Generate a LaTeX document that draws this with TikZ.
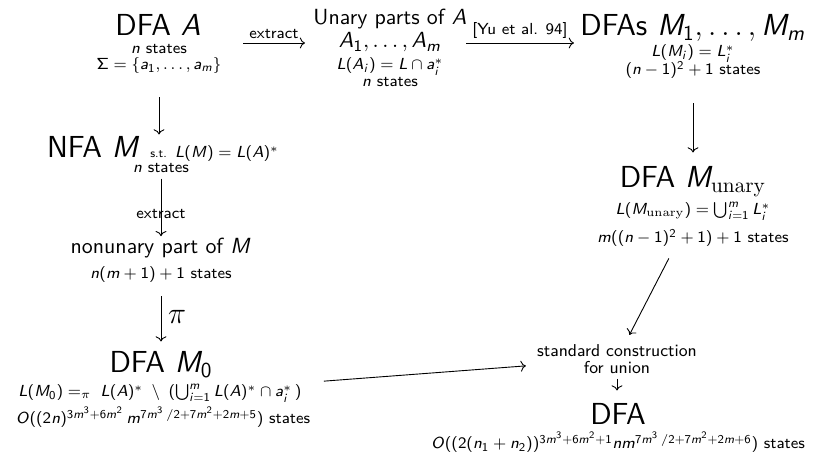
\documentclass[tikz,border=0pt]{standalone}
\usepackage{fix-cm}
\usepackage{amsmath}
\usepackage{tikz}
\usetikzlibrary{arrows.meta, positioning, calc}
\renewcommand{\familydefault}{\sfdefault}
% sans serif math letters, as on a slide
\makeatletter
\DeclareSymbolFont{sfletters}{OT1}{cmss}{m}{sl}
\SetSymbolFont{operators}{normal}{OT1}{cmss}{m}{n}
\@tfor\sf@letter:=abcdefghijklmnopqrstuvwxyzABCDEFGHIJKLMNOPQRSTUVWXYZ\do{%
  \edef\sf@tmp{\noexpand\DeclareMathSymbol{\sf@letter}{\noexpand\mathalpha}{sfletters}{`\sf@letter}}\sf@tmp}
\makeatother
\DeclareMathAlphabet{\mathserif}{OT1}{cmr}{m}{n}
\newcommand{\titlefont}{\fontsize{15.2}{17}\selectfont}
\newcommand{\partfont}{\fontsize{10.95}{12.5}\selectfont}
\newcommand{\methodfont}{\fontsize{8.6}{8.5}\selectfont}
\newcommand{\notefont}{\fontsize{8}{9}\selectfont}
\newcommand{\tinyfont}{\fontsize{6}{7}\selectfont}

\begin{document}
\begin{tikzpicture}[
    x=0.5pt, y=-0.5pt,
    title/.style={font=\titlefont, anchor=base, inner sep=1pt},
    part/.style={font=\partfont, anchor=base, inner sep=1pt},
    note/.style={font=\notefont, anchor=base, inner sep=1pt},
    method/.style={font=\methodfont, align=center, inner sep=1pt},
    arrowlabel/.style={font=\notefont, anchor=south, inner xsep=3pt, inner ysep=2pt},
    arrow/.style={->, line width=0.45pt}
]
\useasboundingbox (0,0) rectangle (821,458);

% top row
\node (dfaA) [title] at (158,36) {DFA $A$};
\node (dfaAstates) [note] at (159,54) {$n$ states};
\node (dfaAsigma) [note] at (159,70) {$\Sigma=\{a_1,\ldots,a_m\}$};
\node (extract) [arrowlabel] at (274,43) {extract};
\draw [arrow] (extract.south west) -- (extract.south east);
\node (unaryhead) [part] at (390,25) {Unary parts of $A$};
\node (unaryparts) [part] at (390,48) {$A_1,\ldots,A_m$};
\node (unarylang) [note] at (390,70) {$L(A_i)=L\cap a_i^*$};
\node (unarystates) [note] at (390,87) {$n$ states};
\node (yu) [arrowlabel] at (520,43) {[Yu et al. 94]};
\draw [arrow] (yu.south west) -- (yu.south east);
\node (dfaM) [title] at (693,36) {DFAs $M_1,\ldots,M_m$};
\node (dfaMlang) [note] at (693,57) {$L(M_i)=L_i^*$};
\node (dfaMstates) [note] at (693,75) {$(n-1)^2+1$ states};

% left column
\node (nfa) [note] at (163,158) {{\titlefont NFA $M$ }{\tinyfont s.t.}\ \,$L(M)=L(A)^*$};
\node (nfastates) [note] at (161,173) {$n$ states};
\node (nonunary) [part] at (161,254) {nonunary part of $M$};
\node (nonunarystates) [note] at (161,279) {$n(m+1)+1$ states};
\node (dfaMzero) [title] at (161,373) {DFA $M_0$};
\node (mzerolang) [note] at (160,397) {$L(M_0)\mathrel{=_\pi}\;L(A)^*\;\setminus\;(\bigcup_{i=1}^m L(A)^*\cap a_i^*\,)$};
\node (mzerostates) [note] at (163,424) {$O((2n)^{3m^3+6m^2}\,m^{7m^3\,/2+7m^2+2m+5})$ states};

% right column
\node (munary) [title] at (693,188) {DFA $M_{\mathserif{unary}}$};
\node (munarylang) [note] at (693,215) {$L(M_{\mathserif{unary}})=\bigcup_{i=1}^m L_i^*$};
\node (munarystates) [note] at (693,243) {$m((n-1)^2+1)+1$ states};
\node (union) [method] at (617,359) {standard construction\\for union};
\node (dfafinal) [title] at (618,425) {DFA};
\node (finalstates) [note] at (618,449) {$O((2(n_1+n_2))^{3m^3+6m^2+1}nm^{7m^3\,/2+7m^2+2m+6})$ states};

% connectors
\draw [arrow, shorten <=10.5pt] (dfaAsigma) -- (dfaAsigma |- nfa.north);
\draw [arrow, shorten <=1.5pt] (nfastates) -- node [note, anchor=center, pos=0.64] {extract} (nfastates |- nonunary.north);
\draw [arrow, shorten <=5.5pt, shorten >=4pt] (nonunarystates) -- node [right, font=\titlefont] {$\pi$} (nonunarystates |- dfaMzero.north);
\draw [arrow, shorten <=11pt, shorten >=6pt] (dfaMstates) -- (dfaMstates |- munary.north);
\draw [arrow, shorten <=20pt, shorten >=4pt] (munarylang) -- (union);
\draw [arrow, shorten <=10pt, shorten >=4.5pt] (mzerolang) -- (union);
\draw [arrow, shorten <=1.5pt, shorten >=5.5pt] (union) -- (union |- dfafinal.north);
\end{tikzpicture}
\end{document}
